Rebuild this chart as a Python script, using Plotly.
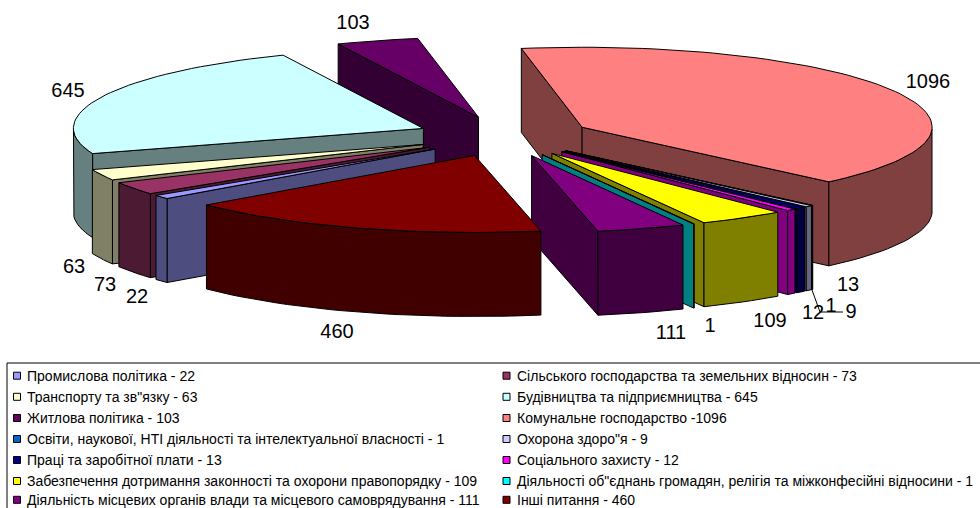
import numpy as np
import plotly.graph_objects as go

names = [
    "Промислова політика - 22",
    "Сільського господарства та земельних відносин - 73",
    "Транспорту та зв\"язку - 63",
    "Будівництва та підприємництва - 645",
    "Житлова політика - 103",
    "Комунальне господарство -1096",
    "Освіти, наукової, НТІ діяльності та інтелектуальної власності - 1",
    "Охорона здоро\"я - 9",
    "Праці та заробітної плати - 13",
    "Соціального захисту - 12",
    "Забезпечення дотримання законності та охорони правопорядку - 109",
    "Діяльності об\"єднань громадян, релігія та міжконфесійні відносини - 1",
    "Діяльність місцевих органів влади та місцевого самоврядування - 111",
    "Інші питання - 460",
]
values = [22, 73, 63, 645, 103, 1096, 1, 9, 13, 12, 109, 1, 111, 460]
colors = [
    "#9999FF", "#993366", "#FFFFCC", "#CCFFFF", "#660066", "#FF8080", "#0066CC",
    "#CCCCFF", "#000080", "#FF00FF", "#FFFF00", "#00FFFF", "#800080", "#800000",
]
dark_colors = [
    "#4D4D80", "#4D1A33", "#808066", "#668080", "#330033", "#804040", "#003366",
    "#666680", "#000040", "#800080", "#808000", "#008080", "#400040", "#400000",
]

# back to front, the slices are painted over each other
draw_order = [4, 5, 3, 2, 1, 0, 6, 7, 8, 9, 10, 11, 12, 13]

# value labels sit by hand where the original had them
label_text = ["22", "73", "63", "645", "103", "1096", "1", "9", "13", "12", "109", "1", "111", "460"]
label_x = [137, 105, 74, 68, 353, 928, 831, 851, 848, 813, 770, 710, 671, 337]
label_y = [298, 286, 268, 92, 24, 83, 307, 313, 286, 314, 322, 327, 334, 333]

# pie geometry in picture pixels
CX, CY = 504, 136.5
RX = 350
RY_BACK, RY_FRONT = 80, 77  # the front half is a bit flatter in the original
EXPLODE = 88
HEIGHT = 84
START_ANGLE = 220

fig = go.Figure()


def add_poly(xs, ys, fill):
    fig.add_trace(go.Scatter(
        x=list(xs) + [xs[0]], y=list(ys) + [ys[0]],
        mode="lines", fill="toself", fillcolor=fill,
        line=dict(color="black", width=1),
        hoverinfo="skip", showlegend=False,
    ))


def add_slice(a0, a1, color, dark):
    # a0 > a1, angles run clockwise in degrees
    mid = np.radians((a0 + a1) / 2)
    ax = CX + EXPLODE * np.cos(mid)
    ay = CY - EXPLODE * RY_BACK / RX * np.sin(mid)
    n = max(2, int(abs(a0 - a1) / 2) + 2)
    t = np.radians(np.linspace(a0, a1, n))
    rim_x = ax + RX * np.cos(t)
    sin_t = np.sin(t)
    rim_y = ay - np.where(sin_t > 0, RY_BACK, RY_FRONT) * sin_t

    # cut faces, only if they look at the viewer
    if np.cos(np.radians(a0)) < 0:
        add_poly([ax, rim_x[0], rim_x[0], ax], [ay, rim_y[0], rim_y[0] + HEIGHT, ay + HEIGHT], dark)
    if np.cos(np.radians(a1)) > 0:
        add_poly([ax, rim_x[-1], rim_x[-1], ax], [ay, rim_y[-1], rim_y[-1] + HEIGHT, ay + HEIGHT], dark)

    # outer wall, front half only
    front = sin_t <= 0.001
    if front.sum() >= 2:
        fx, fy = rim_x[front], rim_y[front]
        add_poly(list(fx) + list(fx[::-1]), list(fy) + list(fy[::-1] + HEIGHT), dark)

    add_poly([ax] + list(rim_x), [ay] + list(rim_y), color)


sweeps = np.array(values) / sum(values) * 360
ends = START_ANGLE - np.cumsum(sweeps)
starts = ends + sweeps
for i in draw_order:
    add_slice(starts[i], ends[i], colors[i], dark_colors[i])

# leader line of the crowded small labels
fig.add_trace(go.Scatter(
    x=[812, 820, 843], y=[290, 312, 312], mode="lines",
    line=dict(color="black", width=1), hoverinfo="skip", showlegend=False,
))

fig.add_trace(go.Scatter(
    x=label_x, y=label_y, text=label_text, mode="text",
    textposition="middle center",
    textfont=dict(family="Liberation Sans", size=20, color="black"),
    hoverinfo="skip", showlegend=False,
))

# legend box, runs off the page like the original
fig.add_shape(type="rect", x0=7, x1=1000, y0=363, y1=530, xref="x", yref="y",
              line=dict(color="black", width=1), fillcolor="white", layer="above")

col_x = [17, 506.5]
row_y = [375.7, 396.8, 418, 439, 460, 481, 499.8]
for i, name in enumerate(names):
    x = col_x[i % 2]
    y = row_y[i // 2]
    fig.add_annotation(x=x + 8, y=y, text=name, showarrow=False, xanchor="left", yanchor="middle",
                       font=dict(family="Liberation Sans", size=14, color="black"))
    fig.add_shape(type="rect", x0=x - 3.5, x1=x + 3.5, y0=y - 3.5, y1=y + 3.5, xref="x", yref="y",
                  line=dict(color="black", width=1), fillcolor=colors[i], layer="above")

fig.update_xaxes(range=[0, 980], visible=False, fixedrange=True)
fig.update_yaxes(range=[508, 0], visible=False, fixedrange=True)
fig.update_layout(
    width=980, height=508,
    margin=dict(l=0, r=0, t=0, b=0),
    paper_bgcolor="white", plot_bgcolor="white",
    showlegend=False,
)
# the page's own margin would push the chart 8px off
fig.write_html("out.html", config={"displayModeBar": False},
               post_script="document.body.style.margin='0';")
